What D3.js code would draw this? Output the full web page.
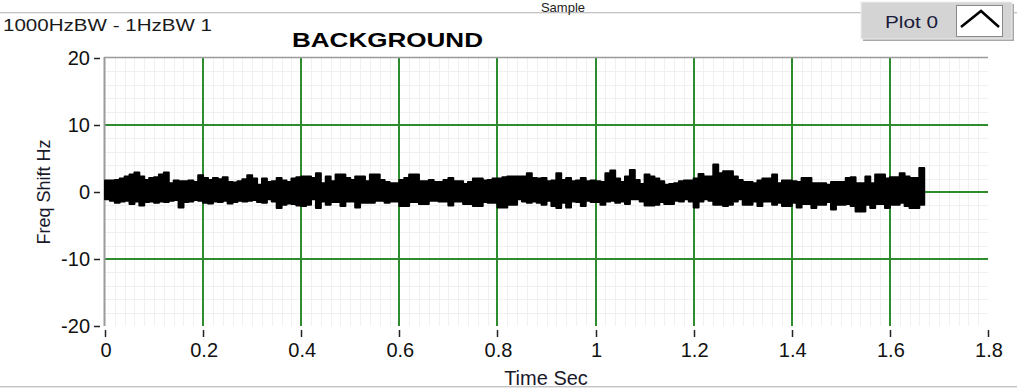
<!DOCTYPE html>
<html>
<head>
<meta charset="utf-8">
<script src="https://cdn.jsdelivr.net/npm/d3@7"></script>
<style>
    html, body {margin: 0; padding: 0; background: #ffffff;}
    svg text {font-family: "Liberation Sans", Arial, sans-serif;}
</style>
</head>
<body>
<svg id="chart" width="1017" height="390"></svg>
<script>
// sample step of the trace, seconds
var dt = 0.01;

// upper edge of the trace per sample (Hz)
var shiftHi = [
    1.7, 1.7, 1.8, 2.0, 2.3, 2.6, 2.9, 2.3, 1.8, 2.1,
    2.2, 2.6, 2.9, 1.3, 1.7, 1.6, 1.6, 1.7, 1.5, 2.5,
    2.1, 1.8, 2.1, 1.9, 2.2, 1.5, 1.4, 1.6, 1.9, 2.5,
    2.0, 1.1, 2.0, 1.5, 1.6, 2.1, 1.7, 1.5, 2.0, 2.2,
    2.3, 2.3, 2.1, 2.8, 1.3, 2.3, 1.6, 2.6, 2.6, 2.1,
    1.8, 2.3, 2.3, 1.6, 2.6, 2.6, 1.8, 1.5, 1.3, 1.3,
    1.8, 2.1, 2.6, 2.6, 1.6, 1.6, 1.8, 1.5, 1.5, 1.8,
    2.1, 1.6, 1.6, 1.2, 1.5, 2.0, 2.0, 1.7, 1.8, 2.0,
    2.0, 2.2, 2.3, 2.3, 2.3, 2.3, 2.8, 2.1, 2.0, 2.1,
    1.6, 1.7, 2.8, 1.8, 2.1, 1.6, 1.7, 2.1, 1.6, 1.7,
    1.6, 1.5, 2.8, 3.2, 2.0, 1.5, 2.3, 3.3, 1.8, 1.2,
    2.6, 2.3, 2.0, 1.6, 1.1, 1.2, 1.3, 1.6, 1.7, 1.7,
    2.0, 2.7, 2.3, 2.3, 4.1, 2.8, 3.1, 3.1, 2.3, 1.8,
    1.5, 1.5, 1.3, 1.7, 2.0, 2.0, 2.6, 1.3, 1.7, 1.7,
    1.6, 1.5, 2.1, 2.1, 1.3, 1.3, 1.3, 1.1, 1.5, 1.5,
    1.5, 2.1, 2.2, 1.3, 1.3, 2.3, 1.3, 2.6, 2.6, 2.0,
    2.2, 2.2, 2.8, 2.3, 2.1, 2.1, 3.6, 1.5
];

// lower edge of the trace per sample (Hz)
var shiftLo = [
    -1.1, -1.3, -1.6, -1.4, -1.3, -1.8, -1.4, -2.0, -1.5, -1.4,
    -1.6, -1.4, -1.5, -1.3, -1.2, -2.3, -1.5, -1.4, -1.2, -1.3,
    -1.6, -1.7, -1.4, -1.5, -1.3, -1.7, -1.5, -1.3, -1.4, -1.3,
    -1.2, -1.5, -1.6, -1.1, -1.4, -2.4, -1.9, -1.7, -1.8, -2.0,
    -2.1, -1.9, -1.1, -2.4, -1.4, -1.9, -1.5, -1.5, -2.1, -1.4,
    -1.4, -2.3, -1.6, -1.6, -1.6, -1.3, -1.3, -1.6, -1.4, -1.4,
    -2.1, -2.1, -1.5, -1.5, -1.8, -1.8, -1.3, -1.3, -1.4, -1.4,
    -2.0, -1.4, -1.4, -1.8, -1.8, -2.1, -2.1, -1.5, -1.6, -1.6,
    -2.3, -2.3, -1.9, -1.9, -1.1, -1.4, -1.6, -1.4, -1.6, -1.9,
    -1.3, -2.1, -2.4, -1.6, -2.3, -1.4, -1.5, -2.1, -1.3, -1.5,
    -1.5, -1.9, -1.4, -1.3, -1.6, -1.4, -1.8, -1.1, -1.1, -1.4,
    -2.0, -2.0, -1.9, -1.5, -1.8, -1.8, -1.3, -1.4, -1.1, -1.4,
    -2.3, -1.4, -1.1, -1.3, -1.9, -1.9, -2.1, -1.9, -1.4, -1.1,
    -1.9, -1.9, -1.4, -2.1, -1.4, -1.4, -1.9, -1.6, -2.1, -2.1,
    -1.6, -2.3, -1.8, -1.8, -2.4, -1.9, -1.9, -1.5, -2.6, -1.9,
    -1.9, -1.8, -2.1, -2.9, -2.9, -1.9, -2.4, -1.8, -1.8, -2.4,
    -1.9, -1.9, -1.6, -2.1, -2.4, -2.4, -1.9, -1.2
];

// axis ticks
var xTicks = [0, 0.2, 0.4, 0.6, 0.8, 1, 1.2, 1.4, 1.6, 1.8];
var xTickLabels = ['0', '0.2', '0.4', '0.6', '0.8', '1', '1.2', '1.4', '1.6', '1.8'];
var yTicks = [20, 10, 0, -10, -20];
var yTickLabels = ['20', '10', '0', '-10', '-20'];

function drawChart() {
    var svg = d3.select('#chart');
    var x = d3.scaleLinear().domain([0, 1.8]).range([105, 988]);
    var y = d3.scaleLinear().domain([-20, 20]).range([326, 58]);

    // frame lines top and bottom
    svg.append('line').attr('x1', 0).attr('x2', 1017).attr('y1', 12.5).attr('y2', 12.5).attr('stroke', '#c4c4c4');
    svg.append('line').attr('x1', 0).attr('x2', 1017).attr('y1', 13.5).attr('y2', 13.5).attr('stroke', '#ececec');
    svg.append('line').attr('x1', 0).attr('x2', 1017).attr('y1', 386.5).attr('y2', 386.5).attr('stroke', '#c4c4c4');
    svg.append('line').attr('x1', 0).attr('x2', 1017).attr('y1', 387.5).attr('y2', 387.5).attr('stroke', '#e6e6e6');

    svg.append('text').attr('x', 563).attr('y', 12).attr('text-anchor', 'middle')
        .attr('font-size', 13).attr('fill', '#222').text('Sample');

    svg.append('text').attr('x', 3).attr('y', 31).attr('font-size', 16)
        .attr('textLength', 209).attr('lengthAdjust', 'spacingAndGlyphs')
        .attr('fill', '#1a1a1a').text('1000HzBW - 1HzBW 1');

    svg.append('text').attr('x', 292).attr('y', 47).attr('font-size', 21).attr('font-weight', 'bold')
        .attr('textLength', 191).attr('lengthAdjust', 'spacingAndGlyphs')
        .attr('fill', '#000').text('BACKGROUND');

    // minor grid
    var minorX = d3.range(1, 90).map(function (i) { return i * 0.02; });
    var minorY = d3.range(-9, 10).map(function (i) { return i * 2; });
    var grid = svg.append('g');
    grid.selectAll('.mx').data(minorX).enter().append('line')
        .attr('x1', function (d) { return Math.round(x(d)) + 0.5; })
        .attr('x2', function (d) { return Math.round(x(d)) + 0.5; })
        .attr('y1', y(20)).attr('y2', y(-20)).attr('stroke', '#f0f0f0');
    grid.selectAll('.my').data(minorY).enter().append('line')
        .attr('x1', x(0)).attr('x2', x(1.8))
        .attr('y1', function (d) { return Math.round(y(d)) + 0.5; })
        .attr('y2', function (d) { return Math.round(y(d)) + 0.5; })
        .attr('stroke', '#f0f0f0');

    // major grid, green
    grid.selectAll('.gx').data(xTicks.slice(1, 9)).enter().append('line')
        .attr('x1', function (d) { return Math.round(x(d)); })
        .attr('x2', function (d) { return Math.round(x(d)); })
        .attr('y1', y(20)).attr('y2', y(-20)).attr('stroke', '#2e8b2e').attr('stroke-width', 2);
    grid.selectAll('.gy').data(yTicks.slice(1, 4)).enter().append('line')
        .attr('x1', x(0)).attr('x2', x(1.8))
        .attr('y1', function (d) { return Math.round(y(d)); })
        .attr('y2', function (d) { return Math.round(y(d)); })
        .attr('stroke', '#2e8b2e').attr('stroke-width', 2);

    // plot borders left + top
    svg.append('line').attr('x1', 104.5).attr('x2', 104.5).attr('y1', 57).attr('y2', 326)
        .attr('stroke', '#9a9a9a').attr('stroke-width', 2);
    svg.append('line').attr('x1', 104).attr('x2', 988).attr('y1', 57.5).attr('y2', 57.5)
        .attr('stroke', '#9a9a9a').attr('stroke-width', 1.5);

    // y axis ticks + labels
    var yAxis = svg.append('g');
    yAxis.selectAll('line').data(yTicks).enter().append('line')
        .attr('x1', 94).attr('x2', 100)
        .attr('y1', function (d) { return Math.round(y(d)) + 0.5; })
        .attr('y2', function (d) { return Math.round(y(d)) + 0.5; })
        .attr('stroke', '#222').attr('stroke-width', 1.5);
    yAxis.selectAll('text').data(yTicks).enter().append('text')
        .attr('x', 90).attr('y', function (d) { return y(d) + 7; })
        .attr('text-anchor', 'end').attr('font-size', 20).attr('fill', '#111')
        .text(function (d, i) { return yTickLabels[i]; });

    // x axis ticks + labels
    var xAxis = svg.append('g');
    xAxis.selectAll('line').data(xTicks).enter().append('line')
        .attr('x1', function (d) { return Math.round(x(d)) + 0.5; })
        .attr('x2', function (d) { return Math.round(x(d)) + 0.5; })
        .attr('y1', 330).attr('y2', 337)
        .attr('stroke', '#222').attr('stroke-width', 1.5);
    xAxis.selectAll('text').data(xTicks).enter().append('text')
        .attr('x', function (d) { return x(d) + 1; }).attr('y', 357)
        .attr('text-anchor', 'middle').attr('font-size', 20).attr('fill', '#111')
        .text(function (d, i) { return xTickLabels[i]; });

    svg.append('text').attr('x', 546).attr('y', 385).attr('text-anchor', 'middle')
        .attr('font-size', 20).attr('fill', '#1a1a2a').text('Time Sec');
    svg.append('text').attr('transform', 'translate(50,192) rotate(-90)')
        .attr('text-anchor', 'middle').attr('font-size', 18).attr('fill', '#1a1a2a').text('Freq Shift Hz');

    // trace as min/max band
    var idx = d3.range(shiftHi.length);
    var band = d3.area()
        .x(function (i) { return x(i * dt); })
        .y0(function (i) { return y(shiftLo[i]); })
        .y1(function (i) { return y(shiftHi[i]); })
        .curve(d3.curveStepAfter);
    svg.append('path').datum(idx).attr('d', band)
        .attr('fill', '#000').attr('stroke', '#000').attr('stroke-width', 2)
        .attr('stroke-linejoin', 'round');

    // legend "Plot 0"
    var lg = svg.append('g');
    lg.append('rect').attr('x', 863).attr('y', 4).attr('width', 151).attr('height', 37).attr('fill', '#a8a8a8');
    lg.append('rect').attr('x', 861).attr('y', 2).attr('width', 151).attr('height', 37)
        .attr('fill', '#d4d4d4').attr('stroke', '#eeeeee').attr('stroke-width', 1);
    lg.append('text').attr('x', 885).attr('y', 28).attr('font-size', 16)
        .attr('textLength', 53).attr('lengthAdjust', 'spacingAndGlyphs')
        .attr('fill', '#1a1a3a').text('Plot 0');
    lg.append('rect').attr('x', 956.5).attr('y', 5.5).attr('width', 46).attr('height', 31)
        .attr('fill', '#ffffff').attr('stroke', '#8a8a8a');
    lg.append('path').attr('d', 'M961,27 L981,11 L999,27')
        .attr('fill', 'none').attr('stroke', '#000').attr('stroke-width', 2.5);
}

drawChart();
</script>
</body>
</html>
